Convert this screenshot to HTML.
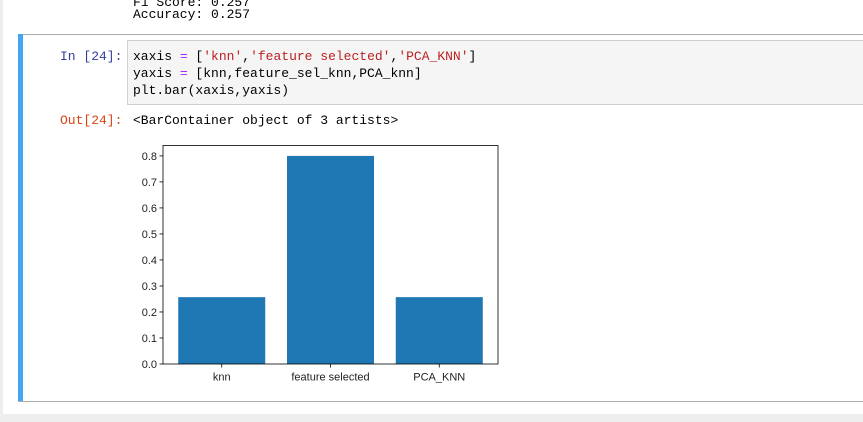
<!DOCTYPE html>
<html><head><meta charset="utf-8"><style>
body{margin:0;width:863px;height:422px;background:#eeeeee;overflow:hidden;font-family:"Liberation Mono",monospace;}
#panel{position:absolute;left:3px;top:0;width:870px;height:414px;background:#fff;}
.t{position:absolute;font-size:13px;white-space:pre;color:#000;line-height:17px;}
</style></head><body>
<div id="panel"></div>
<div class="t" style="left:133px;top:-6px">F1 Score: 0.257</div>
<div class="t" style="left:133px;top:6px">Accuracy: 0.257</div>
<div style="position:absolute;left:18px;top:34px;width:860px;height:366px;border-top:1px solid #ababab;border-bottom:1px solid #ababab;"></div>
<div style="position:absolute;left:18px;top:34px;width:5px;height:367px;background:#42a5f5;"></div>
<div class="t" style="left:60px;top:48px;color:#303f9f">In [24]:</div>
<div style="position:absolute;left:127px;top:40px;width:740px;height:63px;background:#f5f5f5;border:1px solid #cfcfcf;"></div>
<div class="t" style="left:133px;top:48px">xaxis <span style="color:#aa22ff">=</span> [<span style="color:#ba2121">'knn'</span>,<span style="color:#ba2121">'feature selected'</span>,<span style="color:#ba2121">'PCA_KNN'</span>]</div>
<div class="t" style="left:133px;top:65px">yaxis <span style="color:#aa22ff">=</span> [knn,feature_sel_knn,PCA_knn]</div>
<div class="t" style="left:133px;top:82px">plt.bar(xaxis,yaxis)</div>
<div class="t" style="left:60px;top:112px;color:#d84315">Out[24]:</div>
<div class="t" style="left:133px;top:112px">&lt;BarContainer object of 3 artists&gt;</div>
<svg id="chart" style="position:absolute;left:0;top:0" width="863" height="422"></svg>
<script>
const categories=['knn','feature selected','PCA_KNN'];
const values=[0.257,0.8,0.257];
const yTicks=[0,0.1,0.2,0.3,0.4,0.5,0.6,0.7,0.8];
const yTickLabels=['0.0','0.1','0.2','0.3','0.4','0.5','0.6','0.7','0.8'];
const L=163,R=498,T=145.5,B=364;
const ymax=Math.max(...values)*1.05;
const n=categories.length;
const xmin=-0.4-0.05*(n-0.2),xmax=n-1+0.4+0.05*(n-0.2);
const xs=v=>L+(v-xmin)/(xmax-xmin)*(R-L);
const ys=v=>B-v/ymax*(B-T);
const svg=document.getElementById('chart');
const NS='http://www.w3.org/2000/svg';
function mk(tag,attrs){const e=document.createElementNS(NS,tag);for(const k in attrs)e.setAttribute(k,attrs[k]);svg.appendChild(e);return e;}
categories.forEach((c,i)=>{
  const r=mk('rect',{x:xs(i-0.4),y:ys(values[i]),width:xs(i+0.4)-xs(i-0.4),height:B-ys(values[i]),fill:'#1f77b4'});
  
  
  const tk=mk('line',{x1:xs(i),x2:xs(i),y1:B,y2:B+3.5,stroke:'#000','stroke-width':0.8});
  
  
  const t=mk('text',{x:xs(i),y:B+16.5,'text-anchor':'middle','font-size':'11px','font-family':'Liberation Sans, sans-serif',fill:'#222'});
  t.textContent=c;
  
  
});
yTicks.forEach((v,i)=>{
  const tk=mk('line',{x1:L-3.5,x2:L,y1:ys(v),y2:ys(v),stroke:'#000','stroke-width':0.8});
  
  
  const t=mk('text',{x:L-6,y:ys(v)+4,'text-anchor':'end','font-size':'11px','font-family':'Liberation Sans, sans-serif',fill:'#222'});
  t.textContent=yTickLabels[i];
  
  
});
const fr=mk('rect',{x:L,y:T,width:R-L,height:B-T,fill:'none',stroke:'#000','stroke-width':0.8});


</script>
</body></html>
